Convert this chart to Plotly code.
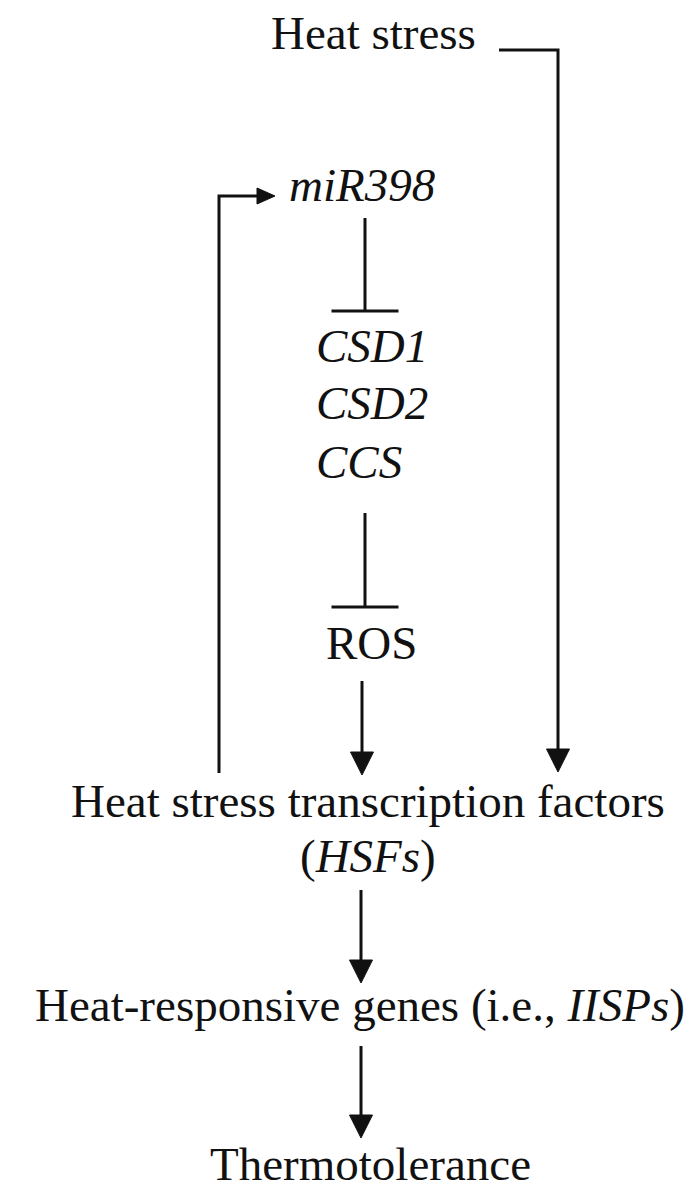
import plotly.graph_objects as go

# ---- diagram content ----
node_labels = [
    "Heat stress",
    "<i>miR398</i>",
    "<i>CSD1</i>",
    "<i>CSD2</i>",
    "<i>CCS</i>",
    "ROS",
    "Heat stress transcription factors",
    "(<i>HSFs</i>)",
    "Heat-responsive genes (i.e., <i>IISPs</i>)",
    "Thermotolerance",
]
# layout of each label: x position, baseline y, horizontal anchor
node_x = [365, 280, 307, 307, 307, 363, 360, 360, 352, 362]
node_base = [45, 197, 358, 415, 474, 655, 813, 868, 1017, 1176]
node_anchor = ["center", "left", "left", "left", "left", "center", "center", "center", "center", "center"]

# connectors: polyline points, end type ('arrow' or 'bar')
links = [
    {"pts": [(491, 42), (550, 42), (550, 764)], "end": "arrow", "head": (23, 23)},   # heat stress -> HSFs
    {"pts": [(211, 765), (211, 188), (267, 188)], "end": "arrow", "head": (18, 16)},  # HSFs -> miR398
    {"pts": [(357, 210), (357, 303)], "end": "bar", "head": (67, 0)},               # miR398 -| CSDs
    {"pts": [(357, 505), (357, 599)], "end": "bar", "head": (67, 0)},               # CSDs -| ROS
    {"pts": [(354, 673), (354, 767)], "end": "arrow", "head": (23, 23)},            # ROS -> HSFs
    {"pts": [(353, 882), (353, 975)], "end": "arrow", "head": (23, 23)},            # HSFs -> genes
    {"pts": [(353, 1038), (353, 1130)], "end": "arrow", "head": (23, 23)},          # genes -> thermotolerance
]

W, H = 694, 1192
FONT = "Liberation Serif, Times New Roman, serif"
FS = 47
INK = "#111111"
LW = 3
TEXT_SHIFT = -4

fig = go.Figure()
shapes = []
for ln in links:
    pts = ln["pts"]
    (x1, y1), (x2, y2) = pts[-2], pts[-1]
    hl, hw = ln["head"]
    dx = (x2 > x1) - (x2 < x1)
    dy = (y2 > y1) - (y2 < y1)
    if ln["end"] == "arrow":
        bx, by = x2 - dx * hl, y2 - dy * hl
        seg = pts[:-1] + [(bx, by)]
        px, py = -dy, dx
        h = hw / 2
        tri = f"M {x2} {y2} L {bx + px*h} {by + py*h} L {bx - px*h} {by - py*h} Z"
        shapes.append(dict(type="path", path=tri, xref="x", yref="y",
                           fillcolor=INK, line=dict(color=INK, width=1)))
    else:
        seg = pts
        h = hl / 2
        shapes.append(dict(type="line", xref="x", yref="y",
                           x0=x2 - h, x1=x2 + h, y0=y2, y1=y2,
                           line=dict(color=INK, width=LW)))
    path = "M " + " L ".join(f"{x} {y}" for x, y in seg)
    shapes.append(dict(type="path", path=path, xref="x", yref="y",
                       line=dict(color=INK, width=LW)))

annotations = []
for lab, x, b, anc in zip(node_labels, node_x, node_base, node_anchor):
    annotations.append(dict(
        x=x, y=b - 0.338 * FS + TEXT_SHIFT, xref="x", yref="y", text=lab, showarrow=False,
        xanchor=anc, yanchor="middle", borderpad=0,
        font=dict(family=FONT, size=FS, color=INK),
    ))

fig.update_layout(
    width=W, height=H,
    margin=dict(l=0, r=0, t=0, b=0),
    paper_bgcolor="white", plot_bgcolor="white",
    xaxis=dict(range=[0, W], visible=False, fixedrange=True),
    yaxis=dict(range=[H, 0], visible=False, fixedrange=True),
    shapes=shapes, annotations=annotations, showlegend=False,
)
fig.write_html("out.html")
